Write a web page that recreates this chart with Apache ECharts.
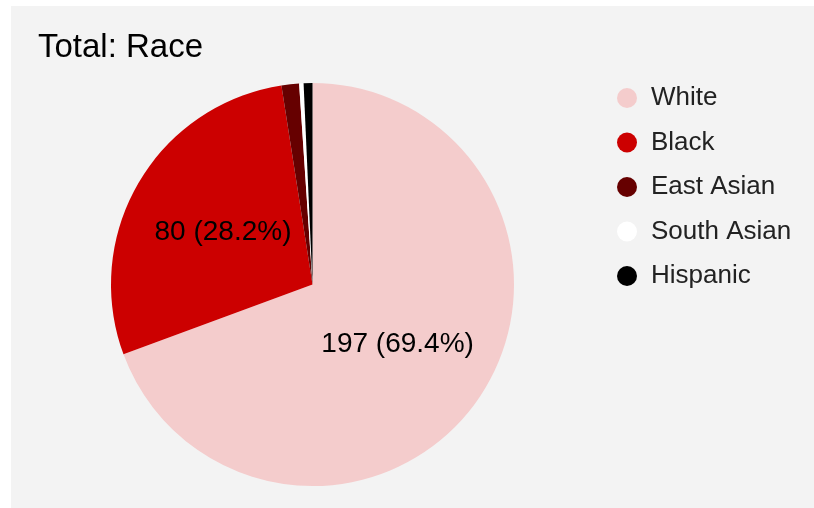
<!DOCTYPE html>
<html>
  <head>
    <meta charset="utf-8" />
    <script src="https://cdn.jsdelivr.net/npm/echarts@6/dist/echarts.min.js"></script>
    <style>
      body { margin: 0; background: #fff; }
      #main { position: absolute; left: 11px; top: 6px; width: 803px; height: 502px; }
    </style>
  </head>
  <body>
    <div id="main"></div>
    <script type="text/javascript">
      // slices, in drawing order (clockwise from 12 o'clock)
      var categories = ['White', 'Black', 'East Asian', 'South Asian', 'Hispanic'];
      var counts = [197, 80, 4, 1, 2];
      var colors = ['#f4cccc', '#cc0000', '#660000', '#ffffff', '#000000'];

      var total = counts.reduce(function (a, b) { return a + b; }, 0);
      var pieData = categories.map(function (name, i) {
        return {
          name: name,
          value: counts[i],
          itemStyle: { color: colors[i] },
          // small slices get no label
          label: { show: counts[i] / total > 0.05 }
        };
      });

      var myChart = echarts.init(document.getElementById('main'));
      var option = {
        backgroundColor: '#f3f3f3',
        title: {
          text: 'Total: Race',
          left: 27,
          top: 25,
          padding: 0,
          textStyle: {
            fontFamily: 'Liberation Sans',
            fontSize: 33,
            fontWeight: 'normal',
            color: '#000'
          }
        },
        legend: {
          orient: 'vertical',
          left: 606,
          top: 79,
          padding: 0,
          icon: 'circle',
          itemWidth: 20,
          itemHeight: 20,
          itemGap: 18.5,
          data: categories,
          textStyle: {
            fontFamily: 'Liberation Sans',
            fontSize: 26,
            lineHeight: 26,
            color: '#222',
            padding: [0, 0, 0, 9]
          }
        },
        series: [
          {
            type: 'pie',
            center: [301.5, 278.5],
            radius: [0, 201.5],
            startAngle: 90,
            clockwise: true,
            avoidLabelOverlap: false,
            labelLine: { show: false },
            label: {
              position: 'inside',
              fontFamily: 'Liberation Sans',
              fontSize: 28,
              color: '#000',
              textBorderWidth: 0,
              formatter: function (p) {
                return p.value + ' (' + (p.value / total * 100).toFixed(1) + '%)';
              }
            },
            emphasis: { disabled: true },
            itemStyle: { borderWidth: 0 },
            data: pieData
          }
        ]
      };
      myChart.setOption(option);
    </script>
  </body>
</html>
